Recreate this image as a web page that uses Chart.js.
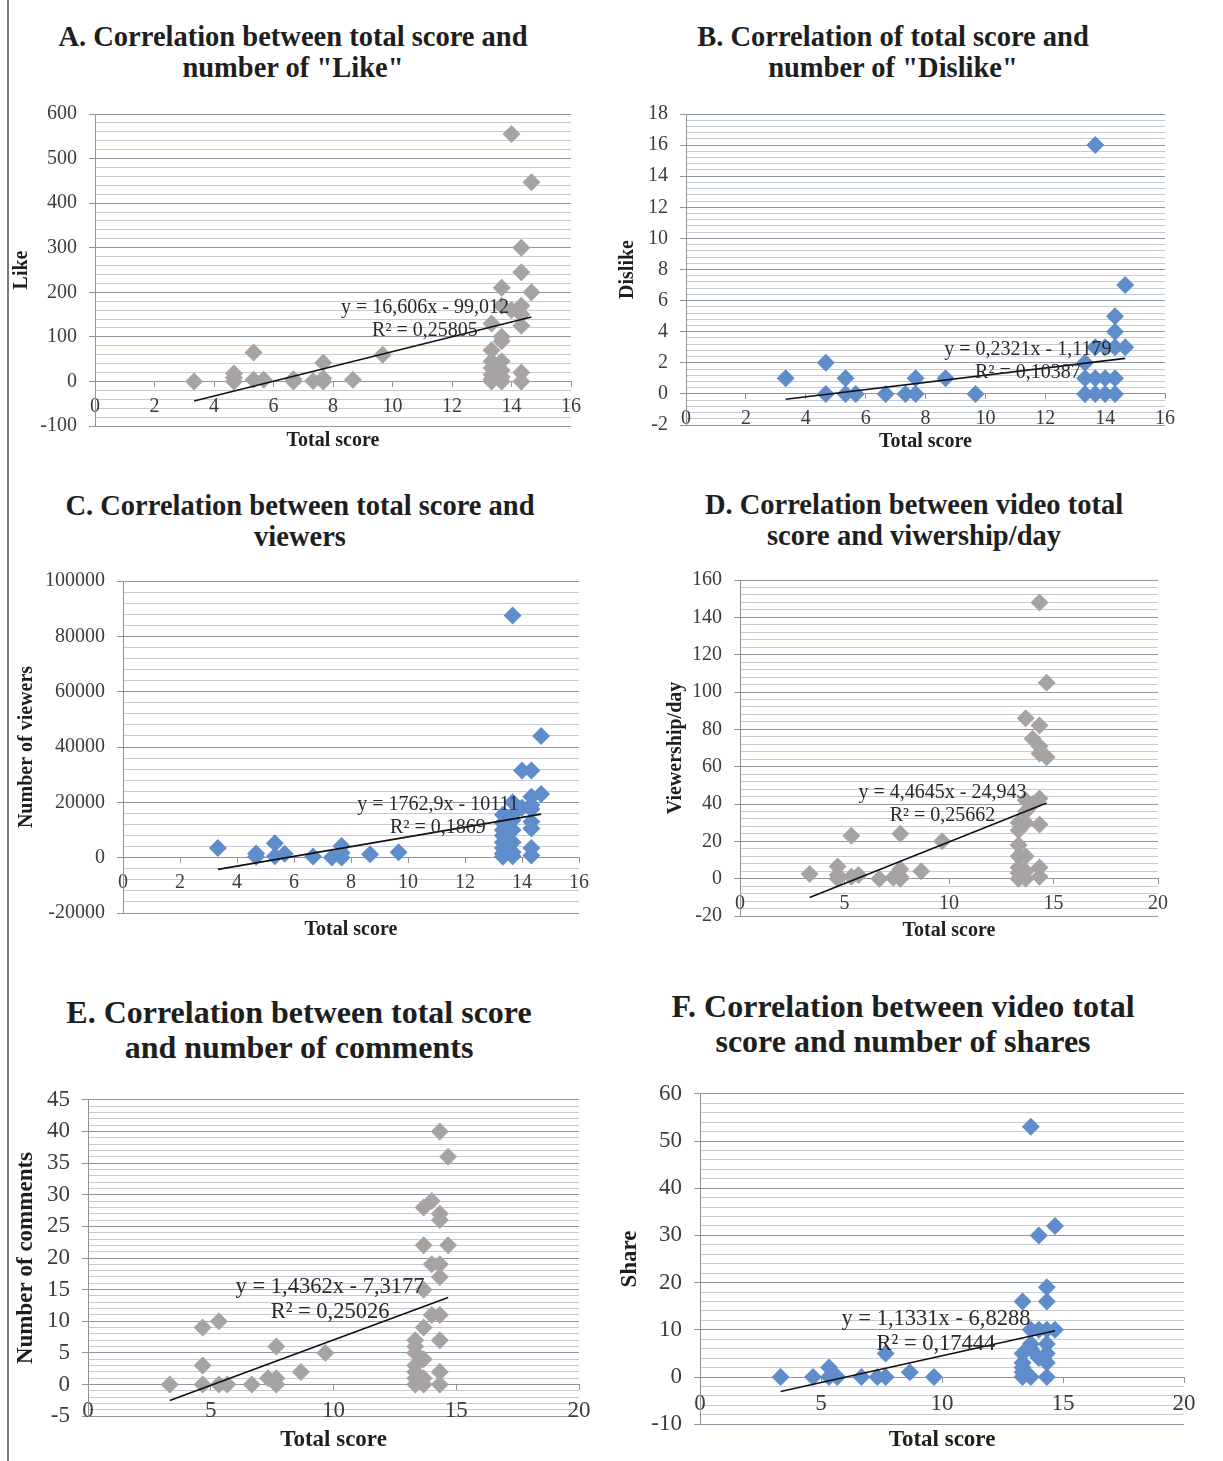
<!DOCTYPE html>
<html><head><meta charset="utf-8">
<script src="https://cdn.jsdelivr.net/npm/chart.js@4.4.1/dist/chart.umd.min.js"></script>
<style>
body{margin:0;background:#fff;width:1223px;height:1461px;position:relative;overflow:hidden;font-family:'Liberation Serif',serif}
canvas{position:absolute}
.t{position:absolute;width:700px;text-align:center;font-weight:bold;color:#1e1e1e;white-space:nowrap}
#frame{position:absolute;left:7px;top:0;width:2px;height:1461px;background:#7a7a7a}
</style></head><body>
<div id="frame"></div>
<div class="t" style="left:-57px;top:21px;font-size:28.5px;line-height:31px">A. Correlation between total score and<br>number of "Like"</div>
<div class="t" style="left:543px;top:21px;font-size:28.5px;line-height:31px">B. Correlation of total score and<br>number of "Dislike"</div>
<div class="t" style="left:-50px;top:490px;font-size:28.5px;line-height:31px">C. Correlation between total score and<br>viewers</div>
<div class="t" style="left:564px;top:489px;font-size:28.5px;line-height:31px">D. Correlation between video total<br>score and viwership/day</div>
<div class="t" style="left:-51px;top:995px;font-size:32px;line-height:35px">E. Correlation between total score<br>and number of comments</div>
<div class="t" style="left:553px;top:989px;font-size:32px;line-height:35px">F. Correlation between video total<br>score and number of shares</div>
<script>
// ---- DATA ----
const likeScore = [3.33,4.67,4.67,4.67,5.33,5.33,5.67,6.67,6.67,7.33,7.67,7.67,7.67,8.67,9.67,
  13.33,13.33,13.33,13.33,13.33,13.33,13.33,
  13.67,13.67,13.67,13.67,13.67,13.67,13.67,13.67,
  14.0,14.0,
  14.33,14.33,14.33,14.33,14.33,14.33,14.33,
  14.67,14.67];
const likeCount = [0,18,8,0,65,4,4,0,5,1,42,7,0,4,60,
  130,70,45,30,15,5,0,
  210,170,100,90,45,25,10,0,
  555,160,
  300,245,170,150,125,20,0,
  447,200];

const dislikeScore = [3.33,4.67,4.67,5.33,5.33,5.67,6.67,7.33,7.67,7.67,8.67,9.67,
  13.33,13.33,13.33,
  13.67,13.67,13.67,13.67,
  14.0,14.0,14.0,
  14.33,14.33,14.33,14.33,14.33,
  14.67,14.67];
const dislikeCount = [1,2,0,1,0,0,0,0,1,0,1,0,
  2,1,0,
  16,3,1,0,
  3,1,0,
  5,4,3,1,0,
  7,3];

const viewScore = [3.33,4.67,4.67,5.33,5.33,5.67,6.67,7.33,7.67,7.67,7.67,8.67,9.67,
  13.33,13.33,13.33,13.33,13.33,13.33,13.33,13.33,
  13.67,13.67,13.67,13.67,13.67,13.67,13.67,13.67,
  14.0,14.0,
  14.33,14.33,14.33,14.33,14.33,14.33,14.33,14.33,
  14.67,14.67];
const viewCount = [3500,1500,300,5200,500,1400,400,100,4200,1800,100,1200,2000,
  15500,12500,10000,8000,5600,3500,1500,300,
  87500,20000,15500,13500,10000,5600,2000,500,
  31500,18000,
  31500,22000,19000,17500,13000,10500,3500,800,
  44000,23000];

const perDayScore = [3.33,4.67,4.67,4.67,5.33,5.33,5.67,6.67,7.33,7.67,7.67,7.67,7.67,8.67,9.67,
  13.33,13.33,13.33,13.33,13.33,13.33,13.33,
  13.67,13.67,13.67,13.67,13.67,13.67,13.67,
  14.0,14.0,
  14.33,14.33,14.33,14.33,14.33,14.33,14.33,14.33,
  14.67,14.67];
const perDayViews = [2.5,6.5,2,0,23,1,2,0,0.5,24,5,1,0,4,20,
  30,26,18,12,6,3,0,
  86,42,36,30,12,4,0,
  75,40,
  148,82,71,67,43,29,6,1,
  105,65];

const commentScore = [3.33,4.67,4.67,4.67,5.33,5.33,5.67,6.67,7.33,7.67,7.67,7.67,8.67,9.67,
  13.33,13.33,13.33,13.33,13.33,13.33,13.33,
  13.67,13.67,13.67,13.67,13.67,13.67,13.67,
  14.0,14.0,14.0,
  14.33,14.33,14.33,14.33,14.33,14.33,14.33,14.33,14.33,
  14.67,14.67];
const commentCount = [0,9,3,0,10,0,0,0,1,6,1,0,2,5,
  7,6,5,3,2,1,0,
  28,22,15,9,4,1,0,
  29,19,11,
  40,27,26,19,17,11,7,2,0,
  36,22];

const shareScore = [3.33,4.67,5.33,5.33,5.67,6.67,7.33,7.67,7.67,8.67,9.67,
  13.33,13.33,13.33,13.33,13.33,13.33,
  13.67,13.67,13.67,13.67,13.67,
  14.0,14.0,14.0,
  14.33,14.33,14.33,14.33,14.33,14.33,14.33,
  14.67,14.67];
const shareCount = [0,0,2,0,0,0,0,5,0,1,0,
  16,5,3,2,1,0,
  53,10,7,6,0,
  30,10,4,
  19,16,10,7,5,3,0,
  32,10];

// trendline coefficients [slope, intercept, R2]
const trendLike    = [16.606, -99.012, 0.25805];
const trendDislike = [0.2321, -1.1179, 0.10387];
const trendViews   = [1762.9, -10111, 0.1869];
const trendPerDay  = [4.4645, -24.943, 0.25662];
const trendComment = [1.4362, -7.3177, 0.25026];
const trendShare   = [1.1331, -6.8288, 0.17444];

const yTitles = ['Like', 'Dislike', 'Number of viewers', 'Viewership/day', 'Number of comments', 'Share'];
const xTitle = 'Total score';

// ---- STYLE ----
Chart.defaults.font.family = "'Liberation Serif', serif";
const GRAY = '#a7a3a3', BLUE = '#5f8dcb';

const eqPlugin = {
  id: 'eq',
  afterDatasetsDraw(chart, args, o) {
    const {ctx} = chart;
    const px = chart.scales.x.getPixelForValue(o.at[0]);
    const py = chart.scales.y.getPixelForValue(o.at[1]);
    ctx.save();
    ctx.font = o.size + "px 'Liberation Serif'";
    ctx.fillStyle = '#2a2a2a';
    ctx.textAlign = 'center';
    ctx.textBaseline = 'middle';
    ctx.fillText(o.lines[0], px, py);
    ctx.fillText(o.lines[1], px, py + o.gap);
    ctx.restore();
  }
};

const fmt = v => String(Math.abs(v)).replace('.', ',');

function makePanel(p) {
  const halfT = p.axisT * 1.2 / 2;
  const cl = Math.round(p.yTitleX - halfT);
  const ct = p.box[1] - 23;
  const cr = p.box[2] + 25;
  const x2h = p.xTitleY - p.box[3] + halfT;
  const cb = Math.round(p.box[3] + x2h);
  const cv = document.createElement('canvas');
  cv.width = cr - cl; cv.height = cb - ct;
  cv.style.left = cl + 'px'; cv.style.top = ct + 'px';
  document.body.appendChild(cv);
  const yw = p.box[0] - cl;
  const isMajor = v => Math.abs(v / p.yMajor - Math.round(v / p.yMajor)) < 1e-6;
  const [m, b, r2] = p.trend;
  const xmin = Math.min(...p.xs), xmax = Math.max(...p.xs);
  const pts = p.xs.map((x, i) => ({x, y: p.ys[i]}));
  const line1 = 'y = ' + fmt(m) + 'x ' + (b < 0 ? '- ' : '+ ') + fmt(b);
  const line2 = 'R\u00b2 = ' + fmt(r2);
  new Chart(cv, {
    type: 'scatter',
    data: {
      datasets: [
        {type: 'line', data: [{x: xmin, y: m * xmin + b}, {x: xmax, y: m * xmax + b}],
         borderColor: '#111', borderWidth: 1.6, pointRadius: 0, fill: false},
        {data: pts, pointStyle: 'rectRot', pointRadius: 9, backgroundColor: p.color, borderWidth: 0}
      ]
    },
    options: {
      responsive: false, animation: false, events: [],
      layout: {padding: {left: 0, top: 20, right: 25, bottom: 0}},
      plugins: {legend: {display: false}, tooltip: {enabled: false},
        eq: {at: p.eqAt, size: p.eqSize, gap: p.eqGap, lines: [line1, line2]}},
      scales: {
        x: {type: 'linear', min: 0, max: p.xMax, position: {y: 0},
          ticks: {stepSize: p.xStep, autoSkip: false, maxRotation: 0, font: {size: p.tick}, color: '#3c3c3c', padding: 8},
          grid: {drawOnChartArea: false, drawTicks: true, tickLength: 5, color: '#949494'},
          border: {display: true, color: '#949494', width: 1}},
        x2: {type: 'linear', axis: 'x', min: 0, max: p.xMax, position: 'bottom',
          ticks: {display: false}, grid: {display: false}, border: {display: false},
          title: {display: true, text: xTitle, color: '#1e1e1e', padding: 0, font: {size: p.axisT, weight: 'bold'}},
          afterFit(s) { s.height = x2h; }},
        y: {type: 'linear', min: p.yMin, max: p.yMax, position: 'left',
          ticks: {stepSize: p.yMinor, autoSkip: false, font: {size: p.tick}, color: '#3c3c3c', padding: 12,
            callback: v => isMajor(v) ? String(Math.round(v)) : ''},
          grid: {color: c => isMajor(c.tick.value) ? '#8e97a4' : '#c6cbd3', lineWidth: 1,
            tickLength: 6, tickColor: c => isMajor(c.tick.value) ? '#949494' : 'rgba(0,0,0,0)'},
          border: {display: true, color: '#949494', width: 1},
          title: {display: true, text: p.yTitle, color: '#1e1e1e', padding: 0, font: {size: p.axisT, weight: 'bold'}},
          afterFit(s) { s.width = yw; }}
      }
    },
    plugins: [eqPlugin]
  });
}

const small = {tick: 20, axisT: 20, eqSize: 20, eqGap: 23};
const big = {tick: 23, axisT: 23, eqSize: 22.5, eqGap: 25};

makePanel(Object.assign({box: [95,113,571,426], yTitleX: 22, xTitleY: 441, xMax: 16, xStep: 2,
  yMin: -100, yMax: 600, yMajor: 100, yMinor: 20, yTitle: yTitles[0], color: GRAY,
  xs: likeScore, ys: likeCount, trend: trendLike, eqAt: [11.09, 165.7]}, small));
makePanel(Object.assign({box: [686,113,1165,425], yTitleX: 628, xTitleY: 442, xMax: 16, xStep: 2,
  yMin: -2, yMax: 18, yMajor: 2, yMinor: 0.4, yTitle: yTitles[1], color: BLUE,
  xs: dislikeScore, ys: dislikeCount, trend: trendDislike, eqAt: [11.42, 2.87]}, small));
makePanel(Object.assign({box: [123,580,579,913], yTitleX: 27, xTitleY: 930, xMax: 16, xStep: 2,
  yMin: -20000, yMax: 100000, yMajor: 20000, yMinor: 4000, yTitle: yTitles[2], color: BLUE,
  xs: viewScore, ys: viewCount, trend: trendViews, eqAt: [11.05, 19286]}, small));
makePanel(Object.assign({box: [740,579,1158,916], yTitleX: 676, xTitleY: 931, xMax: 20, xStep: 5,
  yMin: -20, yMax: 160, yMajor: 20, yMinor: 4, yTitle: yTitles[3], color: GRAY,
  xs: perDayScore, ys: perDayViews, trend: trendPerDay, eqAt: [9.69, 46]}, small));
makePanel(Object.assign({box: [88,1097,579,1416], yTitleX: 26, xTitleY: 1440, xMax: 20, xStep: 5,
  yMin: -5, yMax: 45, yMajor: 5, yMinor: 1, yTitle: yTitles[4], color: GRAY,
  xs: commentScore, ys: commentCount, trend: trendComment, eqAt: [9.86, 15.47]}, big));
makePanel(Object.assign({box: [700,1091,1184,1424], yTitleX: 630, xTitleY: 1440, xMax: 20, xStep: 5,
  yMin: -10, yMax: 60, yMajor: 10, yMinor: 2, yTitle: yTitles[5], color: BLUE,
  xs: shareScore, ys: shareCount, trend: trendShare, eqAt: [9.75, 12.2]}, big));
</script>
</body></html>
